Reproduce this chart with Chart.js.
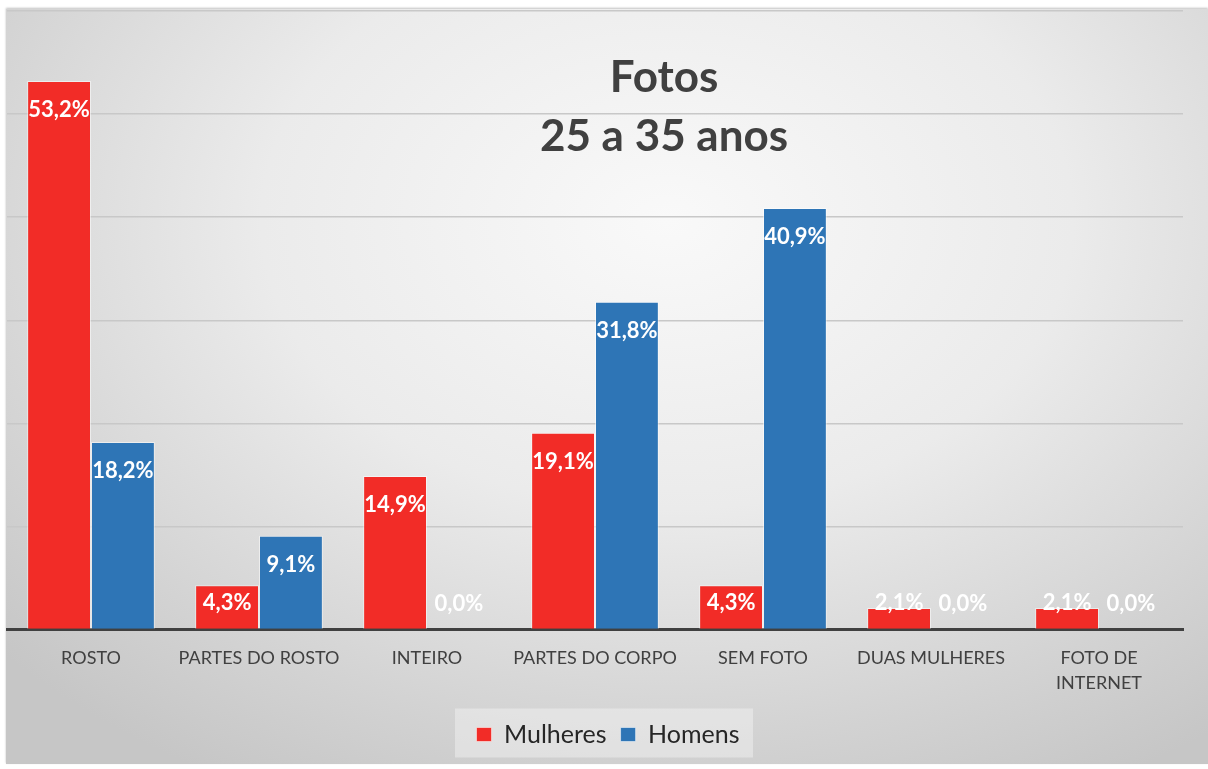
<!DOCTYPE html>
<html>
<head>
<meta charset="utf-8">
<script src="https://cdn.jsdelivr.net/npm/chart.js@4/dist/chart.umd.min.js"></script>
<style>
  html, body { margin: 0; padding: 0; background: #fff; }
  #frame {
    position: absolute; left: 6px; top: 9px; width: 1202px; height: 755px;
    background: radial-gradient(ellipse 75% 85% at 55% 28%, #f9f9f9 0%, #ebebeb 45%, #d3d3d3 80%, #c6c6c6 100%);
    box-shadow: 0 -1px 2px rgba(0,0,0,0.25);
  }
  #chart { display: block; }
</style>
</head>
<body>
<div id="frame"><canvas id="chart" width="1202" height="755"></canvas></div>
<script>
const categories = ['ROSTO', 'PARTES DO ROSTO', 'INTEIRO', 'PARTES DO CORPO', 'SEM FOTO', 'DUAS MULHERES', ['FOTO DE', 'INTERNET']]
const mulheres = [53.2, 4.3, 14.9, 19.1, 4.3, 2.1, 2.1]
const homens = [18.2, 9.1, 0.0, 31.8, 40.9, 0.0, 0.0]
const titleLines = ['Fotos', '25 a 35 anos']

const RED = '#F22C27'
const BLUE = '#2E75B6'
const FONT = "Lato, 'Open Sans', sans-serif"

// Excel-style labels: inside end, kept above the axis for short bars
const valueLabels = {
  id: 'valueLabels',
  afterDatasetsDraw(chart) {
    const { ctx } = chart
    ctx.save()
    ctx.font = `bold 22px ${FONT}`
    ctx.fillStyle = '#FFFFFF'
    ctx.textAlign = 'center'
    ctx.textBaseline = 'middle'
    chart.data.datasets.forEach((ds, i) => {
      chart.getDatasetMeta(i).data.forEach((bar, j) => {
        const y = Math.min(bar.y + 29, bar.base - 26)
        ctx.fillText(ds.data[j].toFixed(1).replace('.', ',') + '%', bar.x, y)
      })
    })
    ctx.restore()
  }
}

// Title sits on top of the plot area, like the original
const overlayTitle = {
  id: 'overlayTitle',
  afterDraw(chart) {
    const { ctx } = chart
    ctx.save()
    ctx.font = `bold 44px ${FONT}`
    ctx.fillStyle = '#404040'
    ctx.textAlign = 'center'
    ctx.textBaseline = 'middle'
    ctx.fillText(titleLines[0], 658, 69)
    ctx.fillText(titleLines[1], 658, 128)
    ctx.restore()
  }
}

// nudge the legend a little right and put a lighter box behind it
const legendBox = {
  id: 'legendBox',
  afterLayout(chart) {
    const l = chart.legend
    if (!l) return
    l.left += 13
    l.right += 13
  },
  beforeDraw(chart) {
    const l = chart.legend
    if (!l) return
    const { ctx } = chart
    ctx.save()
    ctx.fillStyle = 'rgba(255,255,255,0.35)'
    const cy = l.top + l.height / 2
    ctx.fillRect(449, cy - 24, 298, 49)
    ctx.restore()
  }
}

new Chart(document.getElementById('chart'), {
  type: 'bar',
  data: {
    labels: categories,
    datasets: [
      { label: 'Mulheres', data: mulheres, backgroundColor: RED, borderColor: 'rgba(255,255,255,0.5)', borderWidth: 1 },
      { label: 'Homens', data: homens, backgroundColor: BLUE, borderColor: 'rgba(255,255,255,0.5)', borderWidth: 1 }
    ]
  },
  options: {
    responsive: false,
    animation: false,
    datasets: { bar: { categoryPercentage: 0.76, barPercentage: 1 } },
    layout: { padding: { left: 1, right: 25, top: 2, bottom: 7 } },
    scales: {
      x: {
        afterFit: s => { s.height += 4 },
        grid: { display: false },
        border: { color: '#404040', width: 3 },
        ticks: { color: '#404040', font: { family: FONT, size: 18, lineHeight: 1.4 }, padding: 8, maxRotation: 0, autoSkip: false }
      },
      y: {
        min: 0, max: 60,
        ticks: { display: false, stepSize: 10 },
        border: { display: false },
        grid: { drawTicks: false, lineWidth: 1.5, color: c => c.tick.value === 0 ? 'transparent' : '#c8c8c8' }
      }
    },
    plugins: {
      legend: {
        position: 'bottom',
        labels: { color: '#262626', font: { family: FONT, size: 25 }, boxWidth: 15, boxHeight: 14, padding: 14 }
      },
      tooltip: { enabled: false }
    }
  },
  plugins: [legendBox, valueLabels, overlayTitle]
})
</script>
</body>
</html>
